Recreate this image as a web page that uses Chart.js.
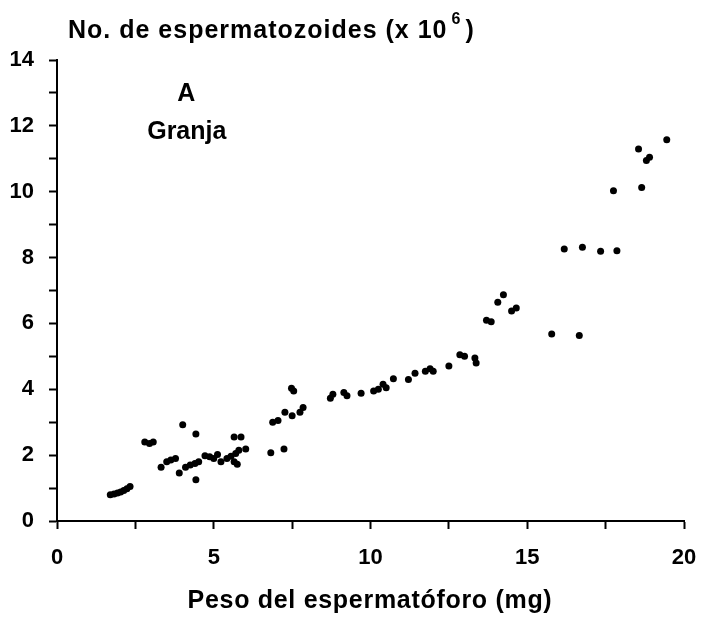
<!DOCTYPE html>
<html>
<head>
<meta charset="utf-8">
<script src="https://cdn.jsdelivr.net/npm/chart.js@4.4.1/dist/chart.umd.min.js"></script>
<style>
  html, body { margin: 0; padding: 0; background: #fff; }
  #wrap { width: 701px; height: 623px; }
</style>
</head>
<body>
<div id="wrap"><canvas id="chart" width="701" height="623"></canvas></div>
<script>
// sperm count vs spermatophore weight, farm group
const spermatophoreWeight = [
  1.7, 1.82, 1.93, 2.03, 2.13, 2.23, 2.33,
  2.8, 2.95, 3.07, 3.32, 3.5, 3.63, 3.78, 4.01, 3.9, 4.43, 4.43,
  4.1, 4.25, 4.4, 4.52, 4.72, 4.87, 5.0, 5.12, 5.23,
  5.42, 5.55, 5.65, 5.75, 5.8, 5.7, 5.65, 5.87, 6.02,
  6.82, 7.24, 6.88, 7.05, 7.27, 7.5, 7.48, 7.55, 7.75, 7.85,
  8.72, 8.8, 9.15, 9.25, 9.7, 10.1, 10.25, 10.4, 10.5, 10.73,
  11.21, 11.42, 11.75, 11.9, 12.0, 12.5, 12.85, 13.0, 13.33, 13.37,
  13.7, 13.85, 14.06, 14.24, 14.5, 14.65, 15.78, 16.66,
  16.18, 16.76, 17.34, 17.86, 17.75, 18.65, 18.55, 18.8, 18.9, 19.45
];
const spermCount = [
  0.8, 0.82, 0.85, 0.88, 0.93, 0.98, 1.05,
  2.4, 2.35, 2.4, 1.63, 1.8, 1.85, 1.9, 2.92, 1.46, 2.64, 1.25,
  1.63, 1.7, 1.75, 1.8, 1.98, 1.95, 1.9, 2.02, 1.8,
  1.9, 1.97, 1.8, 1.72, 2.15, 2.05, 2.55, 2.55, 2.19,
  2.07, 2.19, 3.0, 3.05, 3.3, 3.2, 4.03, 3.95, 3.3, 3.45,
  3.73, 3.85, 3.9, 3.8, 3.88, 3.95, 4.0, 4.15, 4.05, 4.32,
  4.3, 4.49, 4.55, 4.62, 4.55, 4.71, 5.05, 5.0, 4.95, 4.8,
  6.1, 6.05, 6.64, 6.87, 6.38, 6.47, 5.68, 5.63,
  8.26, 8.31, 8.19, 8.21, 10.03, 10.13, 11.3, 10.95, 11.05, 11.58
];
const yTitle = 'No. de espermatozoides (x 10';
const yTitleExp = '6';
const xTitle = 'Peso del espermatóforo (mg)';
const panelLabel = 'A';
const groupLabel = 'Granja';

const FONT = '"Liberation Sans", Arial, sans-serif';

const points = spermatophoreWeight.map((w, i) => ({ x: w, y: spermCount[i] }));

const textPlugin = {
  id: 'texts',
  afterDraw(chart) {
    const ctx = chart.ctx;
    const xs = chart.scales.x, ys = chart.scales.y;
    ctx.save();
    ctx.fillStyle = '#000';
    ctx.textBaseline = 'alphabetic';

    // y axis title, top left
    ctx.font = 'bold 25px ' + FONT;
    ctx.letterSpacing = '1px';
    ctx.textAlign = 'left';
    let x = 68;
    ctx.fillText(yTitle, x, 38);
    x += ctx.measureText(yTitle).width + 4;
    ctx.font = 'bold 16px ' + FONT;
    ctx.fillText(yTitleExp, x, 24);
    x += ctx.measureText(yTitleExp).width + 4;
    ctx.font = 'bold 25px ' + FONT;
    ctx.fillText(')', x, 38);

    // panel labels inside the plot
    ctx.letterSpacing = '0px';
    ctx.textAlign = 'center';
    ctx.fillText(panelLabel, xs.getPixelForValue(4.12), ys.getPixelForValue(12.77));
    ctx.fillText(groupLabel, xs.getPixelForValue(4.14), ys.getPixelForValue(11.61));

    // x axis title
    ctx.letterSpacing = '0.7px';
    ctx.fillText(xTitle, 370, 608);
    ctx.restore();
  }
};

new Chart(document.getElementById('chart'), {
  type: 'scatter',
  data: {
    datasets: [{
      data: points,
      backgroundColor: '#000',
      borderColor: '#000',
      pointRadius: 3.5,
      pointBorderWidth: 0
    }]
  },
  options: {
    responsive: false,
    animation: false,
    plugins: { legend: { display: false }, tooltip: { enabled: false } },
    layout: { padding: { top: 60, right: 17, left: 0, bottom: 0 } },
    scales: {
      x: {
        type: 'linear',
        min: 0, max: 20,
        afterFit(s) { s.height = 102; s.paddingRight = 0; s.paddingLeft = 0; },
        border: { display: true, color: '#000', width: 2 },
        grid: { drawOnChartArea: false, drawTicks: true, tickLength: 8, tickWidth: 2, tickColor: '#000' },
        ticks: {
          stepSize: 2.5,
          padding: 16,
          color: '#000',
          font: { family: FONT, size: 22, weight: 'bold' },
          maxRotation: 0,
          autoSkip: false,
          callback: v => (v % 5 === 0 ? String(v) : '')
        }
      },
      y: {
        type: 'linear',
        min: 0, max: 14,
        afterFit(s) { s.width = 57; s.paddingTop = 0; s.paddingBottom = 0; },
        border: { display: true, color: '#000', width: 2 },
        grid: { drawOnChartArea: false, drawTicks: true, tickLength: 8, tickWidth: 2, tickColor: '#000' },
        ticks: {
          stepSize: 1,
          padding: 15,
          color: '#000',
          font: { family: FONT, size: 22, weight: 'bold' },
          autoSkip: false,
          callback: v => (v % 2 === 0 ? String(v) : '')
        }
      }
    }
  },
  plugins: [textPlugin]
});
</script>
</body>
</html>
